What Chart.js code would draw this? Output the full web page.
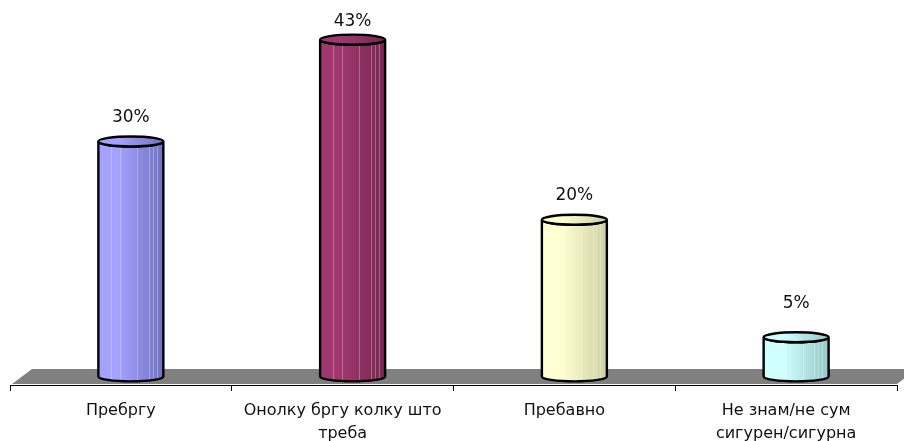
<!DOCTYPE html>
<html>
<head>
<meta charset="utf-8">
<script src="https://cdn.jsdelivr.net/npm/chart.js@4"></script>
<style>
  html, body { margin: 0; padding: 0; background: #fff; }
  #wrap { width: 904px; height: 441px; }
</style>
</head>
<body>
<div id="wrap"><canvas id="chart-bar"></canvas></div>
<script>
/*  DATA  */
const categories = [
  ["Пребргу"],
  ["Онолку бргу колку што", "треба"],
  ["Пребавно"],
  ["Не знам/не сум", "сигурен/сигурна"],
];
const values = [30, 43, 20, 5];

// цвета цилиндров: светлая / тёмная сторона
const lightColors = ["#a3a3ff", "#a0386f", "#ffffd2", "#d0ffff"];
const darkColors = ["#7272c2", "#782852", "#cfcfa6", "#96c8c8"];

const DEPTH_X = 20; // глубина "пола"
const DEPTH_Y = 15;

function bodyPath(ctx, cx, hw, top, base, ry) {
  ctx.beginPath();
  ctx.moveTo(cx - hw, top);
  ctx.lineTo(cx - hw, base);
  ctx.ellipse(cx, base, hw, ry, 0, Math.PI, 0, true);
  ctx.lineTo(cx + hw, top);
  ctx.ellipse(cx, top, hw, ry, 0, 0, Math.PI, false);
  ctx.closePath();
}

const cylinders = {
  id: "cylinders",
  beforeDatasetsDraw(chart) {
    const { ctx, chartArea, scales } = chart;
    const zero = scales.y.getPixelForValue(0);
    const front = zero + DEPTH_Y / 2;
    const back = zero - DEPTH_Y / 2;
    const left = chartArea.left + 2;
    const right = chartArea.right;

    // серый пол
    ctx.save();
    ctx.beginPath();
    ctx.moveTo(left, front);
    ctx.lineTo(right, front);
    ctx.lineTo(right + DEPTH_X, back);
    ctx.lineTo(left + DEPTH_X, back);
    ctx.closePath();
    ctx.fillStyle = "#808080";
    ctx.fill();
    ctx.restore();
  },
  afterDatasetsDraw(chart) {
    const { ctx, chartArea } = chart;
    const meta = chart.getDatasetMeta(0);
    meta.data.forEach((bar, i) => {
      const cx = bar.x + DEPTH_X / 2;
      const hw = bar.width / 2;
      const top = bar.y;
      const base = bar.base;
      const ry = 5;

      const grad = ctx.createLinearGradient(cx - hw, 0, cx + hw, 0);
      grad.addColorStop(0, lightColors[i]);
      grad.addColorStop(0.3, lightColors[i]);
      grad.addColorStop(1, darkColors[i]);

      ctx.save();
      // тело цилиндра
      bodyPath(ctx, cx, hw, top, base, ry);
      ctx.fillStyle = grad;
      ctx.fill();

      // светлые штрихи текстуры
      ctx.save();
      ctx.clip();
      ctx.strokeStyle = "rgba(255,255,255,0.28)";
      ctx.lineWidth = 1;
      [0.2, 0.33, 0.6, 0.78, 0.84, 0.9].forEach((p) => {
        const x = Math.round(cx - hw + p * 2 * hw) + 0.5;
        ctx.beginPath();
        ctx.moveTo(x, top);
        ctx.lineTo(x, base + ry);
        ctx.stroke();
      });
      ctx.restore();

      // контур
      bodyPath(ctx, cx, hw, top, base, ry);
      ctx.lineWidth = 2.4;
      ctx.strokeStyle = "#000";
      ctx.stroke();

      // верхняя крышка
      ctx.beginPath();
      ctx.ellipse(cx, top, hw, ry, 0, 0, Math.PI * 2);
      ctx.fillStyle = grad;
      ctx.fill();
      ctx.stroke();

      // подпись значения (не ниже 73px над полом, не выше края)
      const labelY = Math.max(chartArea.top - 2, Math.min(top - 24, base - 73));
      ctx.fillStyle = "#111";
      ctx.font = "17px 'DejaVu Sans'";
      ctx.textAlign = "center";
      ctx.textBaseline = "middle";
      ctx.fillText(values[i] + "%", cx, labelY);
      ctx.restore();
    });
  },
};

const ctx = document.getElementById("chart-bar").getContext("2d");

new Chart(ctx, {
  type: "bar",
  data: {
    labels: categories,
    datasets: [
      {
        data: values,
        backgroundColor: "rgba(0,0,0,0)",
        borderWidth: 0,
        barPercentage: 0.293,
        categoryPercentage: 1,
      },
    ],
  },
  options: {
    responsive: true,
    maintainAspectRatio: false,
    animation: false,
    plugins: {
      legend: { display: false },
      tooltip: { enabled: false },
    },
    layout: {
      padding: { top: 24, left: 10, right: 7, bottom: 0 },
    },
    scales: {
      x: {
        afterFit: (scale) => { scale.height = 56; },
        border: { display: true, color: "#000", width: 1 },
        grid: {
          offset: true,
          drawOnChartArea: false,
          drawTicks: true,
          tickLength: 6,
          color: "#000",
        },
        ticks: {
          color: "#111",
          padding: 8,
          maxRotation: 0,
          autoSkip: false,
          font: { family: "DejaVu Sans", size: 16, lineHeight: 1.45 },
        },
      },
      y: {
        display: false,
        min: -1.1,
        max: 45,
      },
    },
  },
  plugins: [cylinders],
});
</script>
</body>
</html>
